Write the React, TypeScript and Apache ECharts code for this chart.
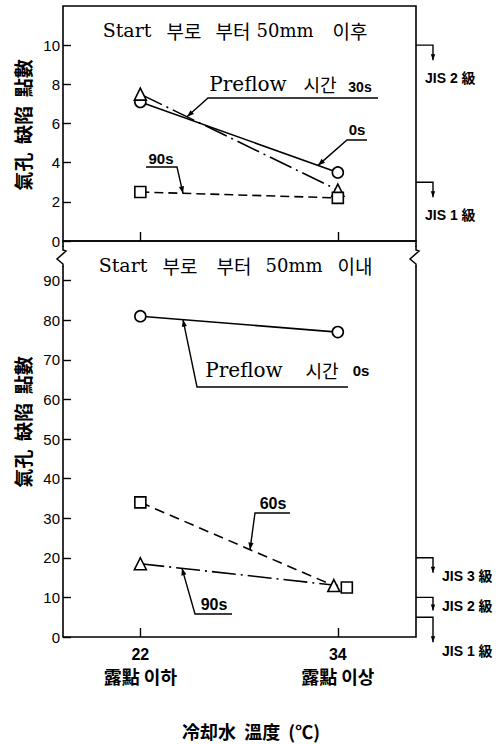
import React, { useEffect, useRef } from "react";
import * as echarts from "echarts";

// Cooling-water temperature (°C) at which the welds were made
const temps = [22, 34];
const tempLabels = ["露點 이하", "露點 이상"];

// Upper panel: beyond 50 mm from the start — blowhole defect points
const after0s = [7.1, 3.5];
const after30s = [7.5, 2.6];
const after90s = [2.5, 2.2];

// Lower panel: within 50 mm from the start
const within0s = [81, 77];
const within60s = [34, 12.5];
const within90s = [18.5, 13];

const afterTicks = [0, 2, 4, 6, 8, 10];
const withinTicks = [0, 10, 20, 30, 40, 50, 60, 70, 80, 90];

// JIS grade limits marked on the right edge
const afterJisLevels = [10, 3];
const afterJisNames = ["JIS 2 級", "JIS 1 級"];
const withinJisLevels = [20, 10, 5];
const withinJisNames = ["JIS 3 級", "JIS 2 級", "JIS 1 級"];

const SERIF = "'DejaVu Serif', 'Noto Sans CJK KR', serif";
const KR = "'Noto Sans CJK KR', sans-serif";
const SANS = "'Liberation Sans', 'Noto Sans CJK KR', sans-serif";

type Pt = [number, number];

function arrowHead(from: Pt, tip: Pt, len = 7, half = 2.6) {
  const dx = tip[0] - from[0];
  const dy = tip[1] - from[1];
  const d = Math.hypot(dx, dy) || 1;
  const ux = dx / d;
  const uy = dy / d;
  const bx = tip[0] - ux * len;
  const by = tip[1] - uy * len;
  return {
    type: "polygon",
    silent: true,
    z: 110,
    shape: { points: [tip, [bx - uy * half, by + ux * half], [bx + uy * half, by - ux * half]] },
    style: { fill: "#000" },
  };
}

function word(text: string, x: number, y: number, font: string, size: number, weight = "normal", align = "center") {
  return {
    type: "text",
    silent: true,
    z: 110,
    x,
    y,
    style: {
      text,
      fill: "#000",
      font: `${weight} ${size}px ${font}`,
      textAlign: align,
      textVerticalAlign: "middle",
    },
  };
}

const lineSeries = (
  name: string,
  grid: number,
  values: number[],
  symbol: string,
  dash: number[] | "solid",
  symbolOffset: number[][] = [[0, 0], [0, 0]]
) => ({
  name,
  type: "line",
  xAxisIndex: grid,
  yAxisIndex: grid,
  data: temps.map((t, i) => ({ value: [t, values[i]], symbolOffset: symbolOffset[i] })),
  symbol,
  symbolSize: symbol === "triangle" ? 12 : 11,
  showSymbol: true,
  itemStyle: { color: "#fff", borderColor: "#000", borderWidth: 1.6 },
  lineStyle: { color: "#000", width: 1.6, type: dash },
  z: 3,
});

export default function App() {
  const ref = useRef<HTMLDivElement>(null);

  useEffect(() => {
    if (!ref.current) return;
    const chart = echarts.init(ref.current, null, { renderer: "svg" });

    const xAxisBase = {
      type: "value",
      min: 17.3,
      max: 38.75,
      axisLine: { show: false },
      splitLine: { show: false },
      axisTick: { show: true, inside: true, length: 9, customValues: temps, lineStyle: { color: "#000", width: 1.4 } },
    };
    const yAxisBase = {
      type: "value",
      min: 0,
      axisLine: { show: false },
      splitLine: { show: false },
    };

    chart.setOption({
      animation: false,
      backgroundColor: "#fff",
      grid: [
        { left: 63, right: 85, top: 6, height: 235, show: true, borderColor: "#000", borderWidth: 1.6, backgroundColor: "transparent" },
        { left: 63, right: 85, top: 241, height: 396, show: true, borderColor: "#000", borderWidth: 1.6, backgroundColor: "transparent" },
      ],
      xAxis: [
        { ...xAxisBase, gridIndex: 0, axisLabel: { show: false } },
        {
          ...xAxisBase,
          gridIndex: 1,
          axisLabel: {
            show: true,
            customValues: temps,
            margin: 7,
            lineHeight: 21,
            formatter: (v: number) => `{n|${v}}\n{k|${tempLabels[temps.indexOf(v)]}}`,
            rich: {
              n: { fontFamily: SANS, fontSize: 16, fontWeight: "bold", color: "#000", lineHeight: 20 },
              k: { fontFamily: KR, fontSize: 18, fontWeight: "bold", color: "#000", lineHeight: 24 },
            },
          },
        },
      ],
      yAxis: [
        {
          ...yAxisBase,
          gridIndex: 0,
          max: 12,
          axisTick: { show: true, inside: true, length: 8, customValues: afterTicks, lineStyle: { color: "#000", width: 1.4 } },
          axisLabel: { customValues: afterTicks, margin: 3, fontFamily: SANS, fontSize: 15, color: "#000" },
        },
        {
          ...yAxisBase,
          gridIndex: 1,
          max: 100,
          axisTick: { show: true, inside: true, length: 8, customValues: withinTicks, lineStyle: { color: "#000", width: 1.4 } },
          axisLabel: { customValues: withinTicks, margin: 3, fontFamily: SANS, fontSize: 15, color: "#000" },
        },
      ],
      series: [
        lineSeries("0s", 0, after0s, "circle", "solid"),
        lineSeries("30s", 0, after30s, "triangle", [24, 5, 2, 5]),
        lineSeries("90s", 0, after90s, "rect", [9, 5]),
        lineSeries("0s", 1, within0s, "circle", "solid"),
        lineSeries("60s", 1, within60s, "rect", [10, 6], [[0, 0], [9, 0]]),
        lineSeries("90s", 1, within90s, "triangle", [24, 5, 2, 5], [[0, 0], [-4, 0]]),
      ],
    });

    // Pixel position on a series line at a given horizontal pixel
    const onLine = (grid: number, ys: number[], px: number): Pt => {
      const xv = (chart.convertFromPixel({ gridIndex: grid }, [px, 0]) as number[])[0];
      const t = (xv - temps[0]) / (temps[1] - temps[0]);
      const yv = ys[0] + (ys[1] - ys[0]) * t;
      return chart.convertToPixel({ gridIndex: grid }, [xv, yv]) as Pt;
    };
    const atValue = (grid: number, v: number): Pt =>
      chart.convertToPixel({ gridIndex: grid }, [38.75, v]) as Pt;

    const graphics: any[] = [];

    // Leader lines from the annotation underline to the curve they name
    const leaders: { grid: number; ys: number[]; path: Pt[]; tipX: number }[] = [
      { grid: 0, ys: after30s, path: [[378, 98], [208, 98]], tipX: 187 },
      { grid: 0, ys: after0s, path: [[367, 140], [347, 140]], tipX: 318 },
      { grid: 0, ys: after90s, path: [[146, 167], [177, 167]], tipX: 183 },
      { grid: 1, ys: within0s, path: [[348, 387], [197, 387]], tipX: 183 },
      { grid: 1, ys: within60s, path: [[290, 513], [255, 513]], tipX: 250 },
      { grid: 1, ys: within90s, path: [[232, 614], [195, 614]], tipX: 182 },
    ];
    leaders.forEach((l) => {
      const tip = onLine(l.grid, l.ys, l.tipX);
      const from = l.path[l.path.length - 1];
      graphics.push({
        type: "polyline",
        silent: true,
        z: 110,
        shape: { points: [...l.path, tip] },
        style: { stroke: "#000", lineWidth: 1.4, fill: null },
      });
      graphics.push(arrowHead(from, tip));
    });

    // Annotation texts
    graphics.push(
      word("Preflow", 248, 84, SERIF, 20),
      word("시간", 320, 84, KR, 18),
      word("30s", 360, 87, SANS, 14, "bold"),
      word("0s", 357, 129, SANS, 15, "bold"),
      word("90s", 161, 158, SANS, 15, "bold"),
      word("Preflow", 244, 370, SERIF, 20),
      word("시간", 322, 370, KR, 18),
      word("0s", 361, 370, SANS, 15, "bold"),
      word("60s", 273, 503, SANS, 16, "bold"),
      word("90s", 214, 604, SANS, 16, "bold")
    );

    // Panel headings
    graphics.push(
      word("Start", 127, 30, SERIF, 19),
      word("부로", 184, 30, KR, 19),
      word("부터", 233, 30, KR, 19),
      word("50mm", 285, 30, SERIF, 18),
      word("이후", 350, 30, KR, 19),
      word("Start", 123, 265, SERIF, 19),
      word("부로", 180, 265, KR, 19),
      word("부터", 234, 265, KR, 19),
      word("50mm", 294, 265, SERIF, 18),
      word("이내", 355, 265, KR, 19)
    );

    // JIS grade brackets on the right edge
    const bracket = (grid: number, v: number, drop: number) => {
      const p = atValue(grid, v);
      const end: Pt = [433, p[1] + drop];
      graphics.push({
        type: "polyline",
        silent: true,
        z: 110,
        shape: { points: [[p[0], p[1]], [433, p[1]], end] },
        style: { stroke: "#000", lineWidth: 1.4, fill: null },
      });
      graphics.push(arrowHead([433, p[1]], end, 6, 2.2));
    };
    afterJisLevels.forEach((v) => bracket(0, v, 15));
    withinJisLevels.forEach((v, i) => bracket(1, v, [15, 13, 25][i]));
    const afterJisY = [78, 215];
    const withinJisY = [576, 606, 651];
    afterJisNames.forEach((n, i) => graphics.push(word(n, 425, afterJisY[i], SANS, 14, "bold", "left")));
    withinJisNames.forEach((n, i) => graphics.push(word(n, 442, withinJisY[i], SANS, 14, "bold", "left")));

    // Axis break marks where the two panels meet
    const breakMark = (x: number) => {
      graphics.push({
        type: "rect",
        silent: true,
        z: 105,
        shape: { x: x - 3, y: 247, width: 6, height: 19 },
        style: { fill: "#fff" },
      });
      graphics.push({
        type: "polyline",
        silent: true,
        z: 110,
        shape: { points: [[x, 246], [x, 250], [x + 3, 251], [x - 6, 259], [x, 264], [x, 267]] },
        style: { stroke: "#000", lineWidth: 1.5, fill: null },
      });
    };
    breakMark(63);
    breakMark(416);

    // Vertical axis titles
    const yTitle = (y: number) => ({
      type: "text",
      silent: true,
      z: 110,
      x: 22,
      y,
      rotation: Math.PI / 2,
      style: {
        text: "氣孔  缺陷  點數",
        fill: "#000",
        font: `bold 19px ${KR}`,
        textAlign: "center",
        textVerticalAlign: "middle",
      },
    });
    graphics.push(yTitle(125), yTitle(422));

    // Horizontal axis title
    graphics.push(word("冷却水  溫度  (℃)", 251, 731, KR, 18, "bold"));

    chart.setOption({ graphic: { elements: graphics } });

    return () => chart.dispose();
  }, []);

  return (
    <div
      ref={ref}
      style={{ position: "absolute", left: 0, top: 0, width: 501, height: 744 }}
    />
  );
}
